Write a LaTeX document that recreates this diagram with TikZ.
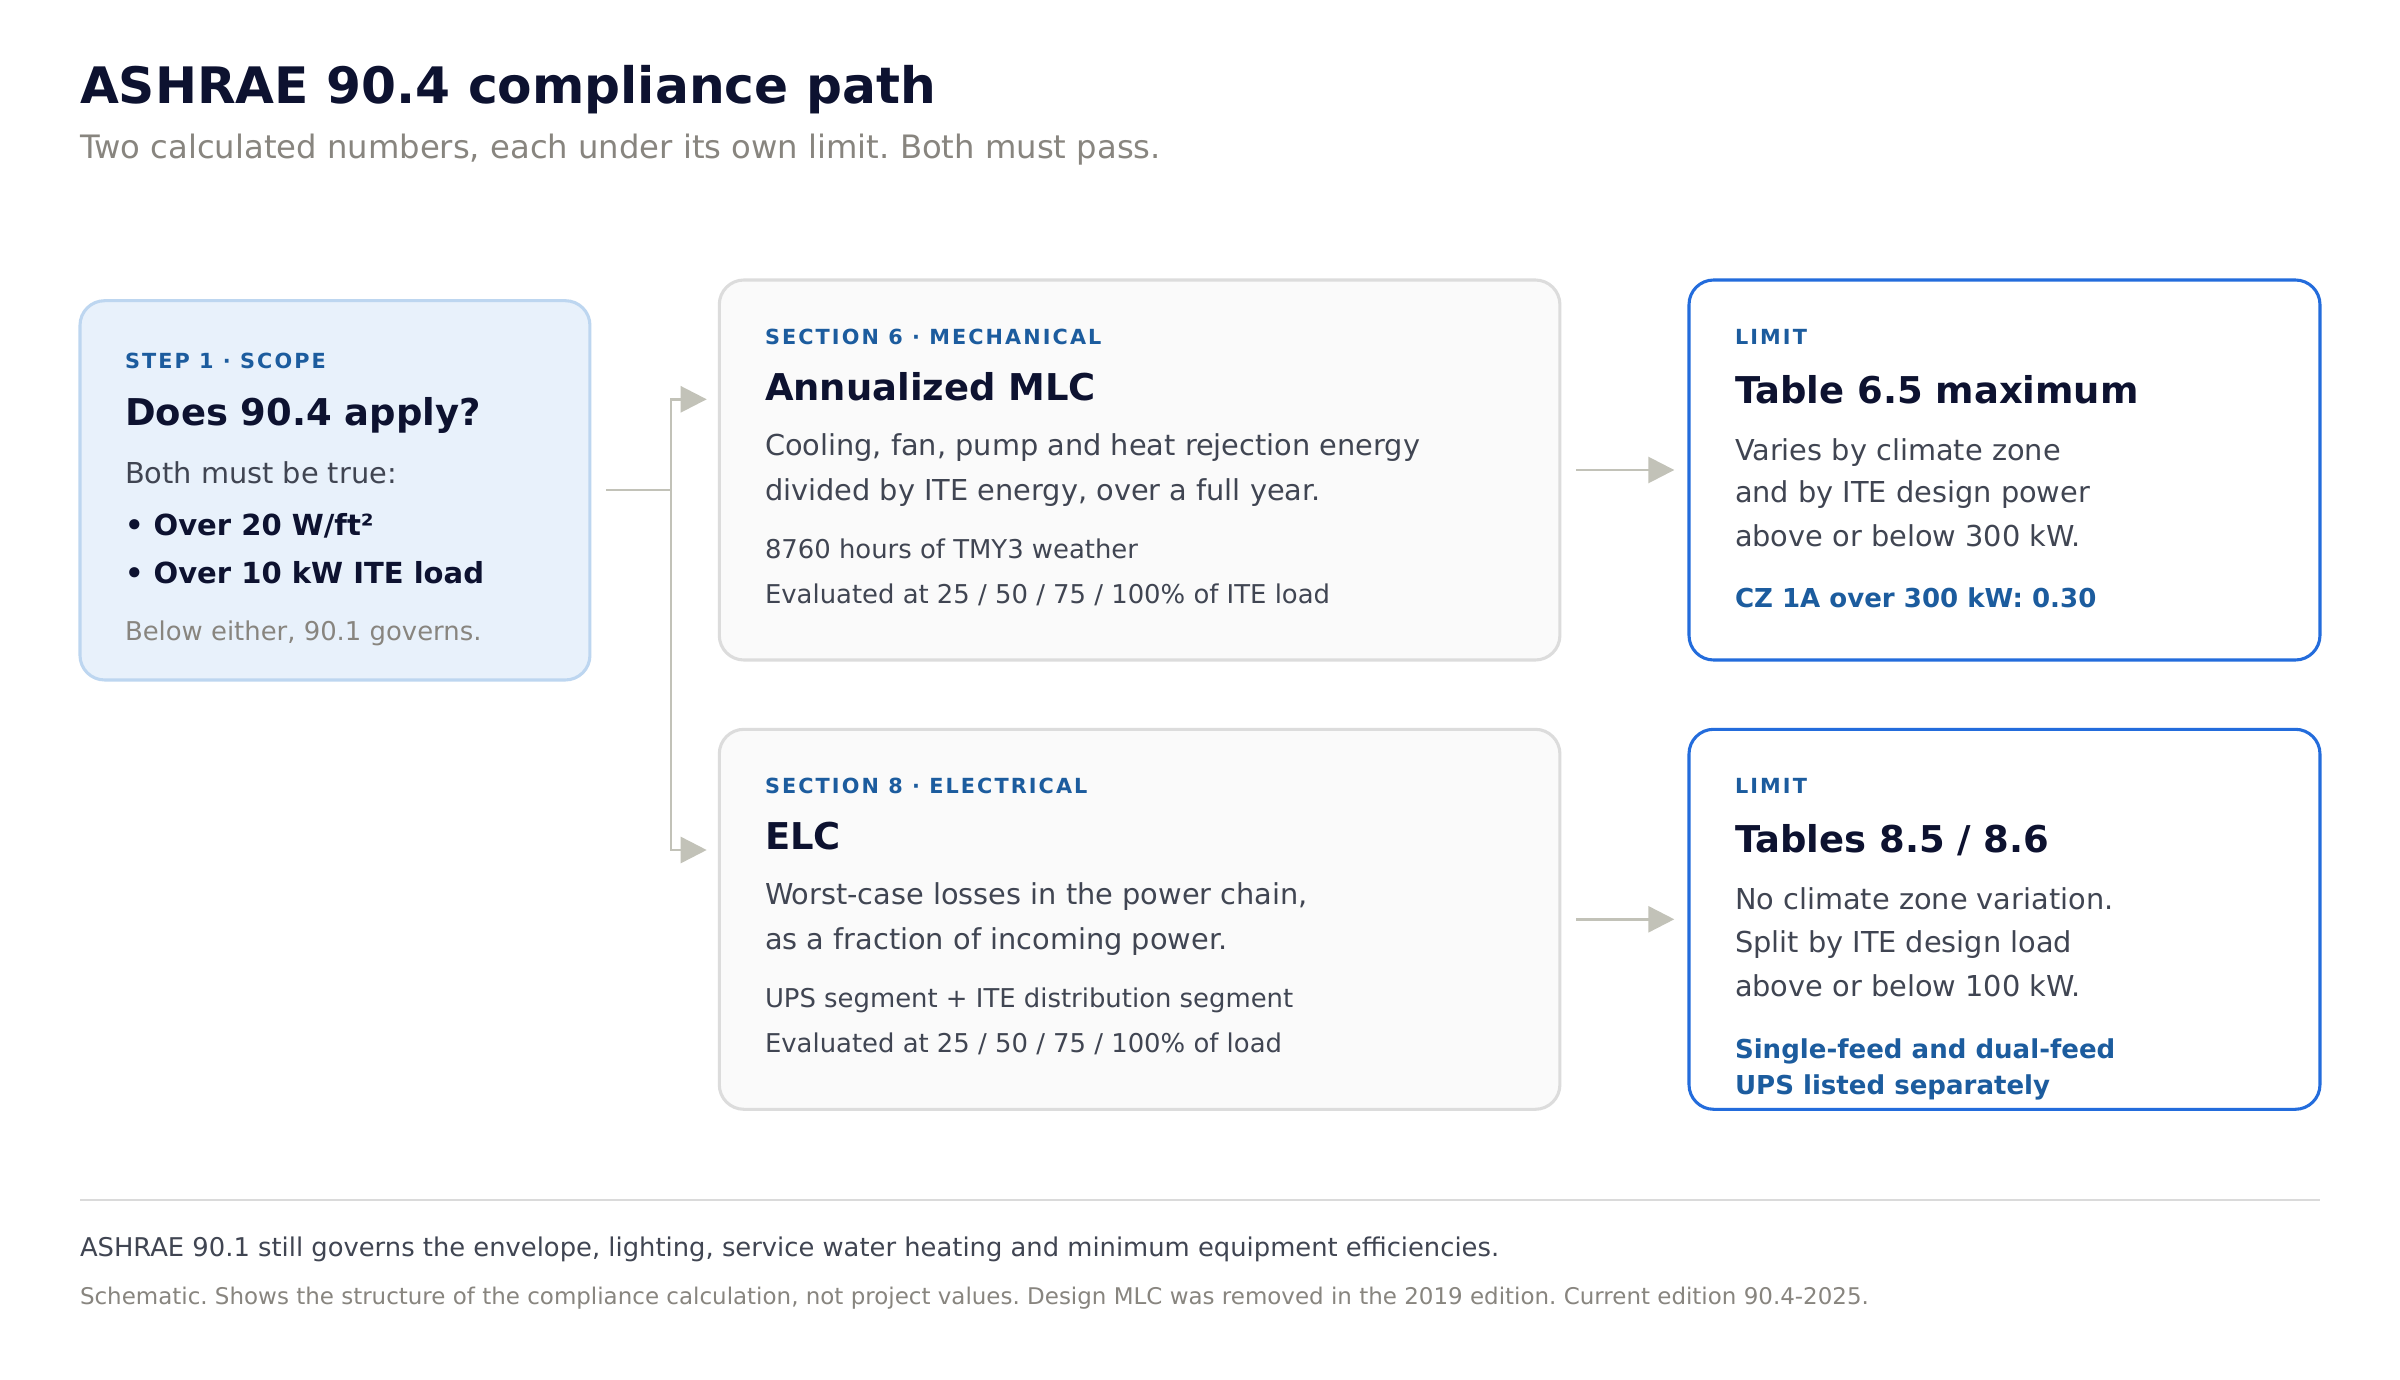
\documentclass[tikz,border=0pt]{standalone}
\usepackage{fontspec}
\setmainfont{DejaVu Sans}
\newfontfamily\eyefont[LetterSpace=10]{DejaVu Sans}
\usetikzlibrary{arrows.meta}
\definecolor{ink}{HTML}{0D1230}
\definecolor{subgray}{HTML}{88857F}
\definecolor{body}{HTML}{404552}
\definecolor{eyeblue}{HTML}{1C5C9E}
\definecolor{limblue}{HTML}{236CDC}
\definecolor{stepfill}{HTML}{E8F1FB}
\definecolor{stepline}{HTML}{BDD6F0}
\definecolor{cardfill}{HTML}{FAFAFA}
\definecolor{cardline}{HTML}{DCDCDC}
\definecolor{conn}{HTML}{C2C2B8}
\definecolor{rule}{HTML}{DADADA}
\begin{document}
\frenchspacing
\begin{tikzpicture}[x=0.4875pt,y=-0.4875pt,
  txt/.style={inner sep=0pt,outer sep=0pt,anchor=base west},
  ttl/.style={txt,font=\fontsize{24.5pt}{28pt}\selectfont\bfseries,text=ink},
  sub/.style={txt,font=\fontsize{15.72pt}{18pt}\selectfont,text=subgray},
  eyebrow/.style={txt,font=\fontsize{10.14pt}{12pt}\eyefont\bfseries,text=eyeblue},
  head/.style={txt,font=\fontsize{18pt}{22pt}\selectfont\bfseries,text=ink},
  bodytxt/.style={txt,font=\fontsize{14.04pt}{17pt}\selectfont,text=body},
  bullet/.style={txt,font=\fontsize{14.15pt}{17pt}\selectfont\bfseries,text=ink},
  small/.style={txt,font=\fontsize{12.62pt}{15pt}\selectfont,text=body},
  note/.style={txt,font=\fontsize{12.62pt}{15pt}\selectfont,text=subgray},
  limtxt/.style={txt,font=\fontsize{12.7pt}{15pt}\selectfont\bfseries,text=eyeblue},
  foot/.style={txt,font=\fontsize{12.58pt}{15pt}\selectfont,text=body},
  foot2/.style={txt,font=\fontsize{11.2pt}{13pt}\selectfont,text=subgray},
  panel/.style={line width=1.5pt,rounded corners=12pt,anchor=north west,inner sep=0pt,outer sep=0pt},
  stepbox/.style={panel,draw=stepline,fill=stepfill,minimum width=248.6pt,minimum height=184.9pt},
  card/.style={panel,draw=cardline,fill=cardfill,minimum width=409.8pt,minimum height=185.25pt},
  limbox/.style={panel,draw=limblue,fill=white,minimum width=307.6pt,minimum height=185.25pt},
  link/.style={draw=conn,line width=1.3pt,-{Triangle[length=12.7pt,width=12.7pt]}},
  plain/.style={draw=conn,line width=1.3pt}
]
\useasboundingbox[fill=white] (0,0) rectangle (2400,1380);

% header
\node[ttl] (title) at (80,104) {ASHRAE 90.4 compliance path};
\node[sub] (subtitle) at (80,158.3) {Two calculated numbers, each under its own limit. Both must pass.};

% boxes
\node[stepbox] (step) at (80,300.7) {};
\node[card] (mlc) at (719.3,280) {};
\node[limbox] (lim1) at (1689,280) {};
\node[card] (elc) at (719.3,729.3) {};
\node[limbox] (lim2) at (1689,729.3) {};

% step text
\node[eyebrow] (s1) at (125,368.3) {STEP 1 · SCOPE};
\node[head] (s2) at (125,425) {Does 90.4 apply?};
\node[bodytxt] (s3) at (125,483.3) {Both must be true:};
\node[bullet] (s4) at (125,535) {• Over 20 W/ft²};
\node[bullet] (s5) at (125,583.3) {• Over 10 kW ITE load};
\node[note] (s6) at (125,640) {Below either, 90.1 governs.};

% MLC text
\node[eyebrow] (m1) at (765,344) {SECTION 6 · MECHANICAL};
\node[head] (m2) at (765,400) {Annualized MLC};
\node[bodytxt] (m3) at (765,455.3) {Cooling, fan, pump and heat rejection energy};
\node[bodytxt] (m4) at (765,500) {divided by ITE energy, over a full year.};
\node[small] (m5) at (765,558.3) {8760 hours of TMY3 weather};
\node[small] (m6) at (765,603.3) {Evaluated at 25 / 50 / 75 / 100\% of ITE load};

% limit 1 text
\node[eyebrow] (l1) at (1735,344) {LIMIT};
\node[head] (l2) at (1735,403.3) {Table 6.5 maximum};
\node[bodytxt] (l3) at (1735,460) {Varies by climate zone};
\node[bodytxt] (l4) at (1735,502.7) {and by ITE design power};
\node[bodytxt] (l5) at (1735,546) {above or below 300 kW.};
\node[limtxt] (l6) at (1735,607.7) {CZ 1A over 300 kW: 0.30};

% ELC text
\node[eyebrow] (e1) at (765,793.3) {SECTION 8 · ELECTRICAL};
\node[head] (e2) at (765,849.3) {ELC};
\node[bodytxt] (e3) at (765,904.6) {Worst-case losses in the power chain,};
\node[bodytxt] (e4) at (765,949.3) {as a fraction of incoming power.};
\node[small] (e5) at (765,1007.6) {UPS segment + ITE distribution segment};
\node[small] (e6) at (765,1052.6) {Evaluated at 25 / 50 / 75 / 100\% of load};

% limit 2 text
\node[eyebrow] (k1) at (1735,793.3) {LIMIT};
\node[head] (k2) at (1735,852.6) {Tables 8.5 / 8.6};
\node[bodytxt] (k3) at (1735,909.3) {No climate zone variation.};
\node[bodytxt] (k4) at (1735,952.2) {Split by ITE design load};
\node[bodytxt] (k5) at (1735,996) {above or below 100 kW.};
\node[limtxt] (k6) at (1735,1058.3) {Single-feed and dual-feed};
\node[limtxt] (k7) at (1735,1094.3) {UPS listed separately};

% connectors
\coordinate (stepout) at (606,490);
\coordinate (fork) at (671,490);
\coordinate (mlcin) at (706.7,399.3);
\coordinate (elcin) at (706.7,850);
\draw[plain] (stepout) -- (fork);
\draw[link] (fork) |- (mlcin);
\draw[link] (fork) |- (elcin);
\coordinate (mlcout) at (1576,470);
\coordinate (lim1in) at (1674.3,470);
\coordinate (elcout) at (1576,919.3);
\coordinate (lim2in) at (1674.3,919.3);
\draw[link] (mlcout) -- (lim1in);
\draw[link] (elcout) -- (lim2in);

% footer
\coordinate (ruleL) at (80,1200);
\coordinate (ruleR) at (2320,1200);
\draw[draw=rule,line width=1.4pt] (ruleL) -- (ruleR);
\node[foot] (f1) at (80,1256) {ASHRAE 90.1 still governs the envelope, lighting, service water heating and minimum equipment efficiencies.};
\node[foot2] (f2) at (80,1304) {Schematic. Shows the structure of the compliance calculation, not project values. Design MLC was removed in the 2019 edition. Current edition 90.4-2025.};
\end{tikzpicture}
\end{document}
